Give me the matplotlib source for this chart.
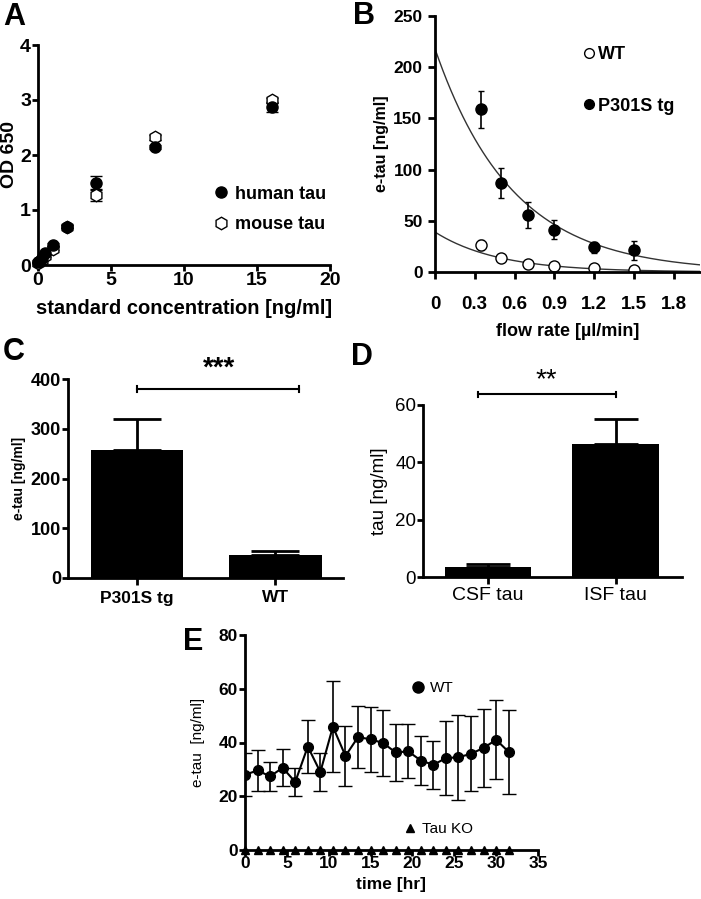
import numpy as np
import matplotlib
matplotlib.use("Agg")
import matplotlib.pyplot as plt
from matplotlib.lines import Line2D

plt.rcParams["font.family"] = ["Liberation Sans", "DejaVu Sans"]
plt.rcParams["axes.linewidth"] = 2

# panel A: ELISA standard curve
std_conc = [0, 0.125, 0.25, 0.5, 1, 2, 4, 8, 16]
human_od = [0.05, 0.08, 0.12, 0.22, 0.37, 0.70, 1.50, 2.15, 2.87]
human_err = [0, 0, 0, 0.02, 0.03, 0.02, 0.12, 0.04, 0.08]
mouse_od = [0.03, 0.07, 0.10, 0.17, 0.30, 0.70, 1.27, 2.32, 3.00]
mouse_err = [0, 0, 0, 0.02, 0.02, 0.02, 0.10, 0.04, 0.04]

# panel B: flow rate vs e-tau
flow = [0.35, 0.5, 0.7, 0.9, 1.2, 1.5]
wt_flow = [26, 13.7, 8, 6, 4, 2.3]
wt_flow_err = [5, 2, 1.5, 1.2, 1, 0.8]
tg_flow = [159, 87, 55.5, 41.5, 24, 21]
tg_flow_err = [18, 15, 13, 9, 5, 9]
# one-phase decay fit parameters (y0, k)
tg_fit = (218, 1.72)
wt_fit = (39, 2.1)

# panel C
c_groups = ["P301S tg", "WT"]
c_vals = [258, 47]
c_err = [62, 8]

# panel D
d_groups = ["CSF tau", "ISF tau"]
d_vals = [3.5, 46.5]
d_err = [1.0, 8.5]

# panel E: time course
time_hr = [0, 1.5, 3, 4.5, 6, 7.5, 9, 10.5, 12, 13.5, 15, 16.5, 18, 19.5,
           21, 22.5, 24, 25.5, 27, 28.5, 30, 31.5]
wt_time = [28, 29.6, 27.4, 30.6, 25.3, 38.5, 29, 45.9, 35, 42, 41.2, 39.8,
           36.3, 36.7, 33.3, 31.7, 34.2, 34.5, 35.8, 38, 41, 36.5]
wt_time_err = [8, 7.7, 5.5, 6.8, 5.2, 10, 7.2, 17, 11, 11.5, 12, 12.3,
               10.6, 10, 9, 9, 13.8, 15.8, 14, 14.6, 14.7, 15.7]
ko_time = [0] * len(time_hr)

W, H = 701, 899
fig = plt.figure(figsize=(W / 100, H / 100), dpi=100)


def add_ax(x0, y0, x1, y1):
    # pixel box -> figure fraction
    return fig.add_axes([x0 / W, 1 - y1 / H, (x1 - x0) / W, (y1 - y0) / H])


def style(ax, size, weight="bold", length=4):
    for s in ["top", "right"]:
        ax.spines[s].set_visible(False)
    ax.tick_params(width=2, length=length, labelsize=size, pad=1)
    for lab in ax.get_xticklabels() + ax.get_yticklabels():
        lab.set_fontweight(weight)


def ylabel_at(ax, text, px, size, weight="bold"):
    # put the y label centre at pixel column px
    ax.set_ylabel(text, fontsize=size, fontweight=weight)
    bb = ax.get_position()
    ax.yaxis.set_label_coords((px / W - bb.x0) / bb.width, 0.5)
    ax.yaxis.label.set_va("center")


def xlabel_at(ax, text, py, size, weight="bold"):
    ax.set_xlabel(text, fontsize=size, fontweight=weight)
    bb = ax.get_position()
    ax.xaxis.set_label_coords(0.5, (1 - py / H - bb.y0) / bb.height)
    ax.xaxis.label.set_va("center")


# ---- A
ax = add_ax(38, 45, 330, 265)
ax.errorbar(std_conc, mouse_od, yerr=mouse_err, fmt="h", color="black",
            mfc="white", ms=9, capsize=4, elinewidth=1.2, clip_on=False)
ax.errorbar(std_conc, human_od, yerr=human_err, fmt="o", color="black",
            ms=8, capsize=4, elinewidth=1.2, clip_on=False)
ax.set_xlim(0, 20)
ax.set_ylim(0, 4)
ax.set_xticks([0, 5, 10, 15, 20])
ax.set_yticks([0, 1, 2, 3, 4])
xlabel_at(ax, "standard concentration [ng/ml]", 308, 14.5)
ylabel_at(ax, "OD 650", 10, 14)
style(ax, 14)
handles = [Line2D([], [], ls="none", marker="o", color="black", ms=8),
           Line2D([], [], ls="none", marker="h", color="black", mfc="white",
                  ms=9)]
ax.legend(handles, ["human tau", "mouse tau"], loc="center left",
          bbox_to_anchor=(0.595, 0.252), frameon=False,
          prop={"weight": "bold", "size": 13}, handletextpad=0.3,
          handlelength=1.0, labelspacing=0.75, borderpad=0, borderaxespad=0)

# ---- B
ax = add_ax(435, 16, 700, 272)
xs = np.linspace(0, 2.0, 200)
ax.plot(xs, tg_fit[0] * np.exp(-tg_fit[1] * xs), color="#333333", lw=1)
ax.plot(xs, wt_fit[0] * np.exp(-wt_fit[1] * xs), color="#333333", lw=1)
ax.errorbar(flow, wt_flow, yerr=wt_flow_err, fmt="o", color="black",
            mfc="white", ms=8, capsize=2, elinewidth=1.2)
ax.errorbar(flow, tg_flow, yerr=tg_flow_err, fmt="o", color="black",
            ms=8, capsize=2, elinewidth=1.2)
ax.set_xlim(0, 2.0)
ax.set_ylim(0, 250)
ax.set_xticks([0, 0.3, 0.6, 0.9, 1.2, 1.5, 1.8])
ax.set_xticklabels(["0", "0.3", "0.6", "0.9", "1.2", "1.5", "1.8"])
ax.set_yticks([0, 50, 100, 150, 200, 250])
xlabel_at(ax, "flow rate [µl/min]", 332, 13)
ylabel_at(ax, "e-tau [ng/ml]", 382, 11.5)
style(ax, 12.5, length=5)
ax.tick_params(axis="y", pad=4)
ax.tick_params(axis="x", labelsize=13.5, pad=12)
handles = [Line2D([], [], ls="none", marker="o", color="black", mfc="white",
                  ms=7),
           Line2D([], [], ls="none", marker="o", color="black", ms=7)]
ax.legend(handles, ["WT", "P301S tg"], loc="center left",
          bbox_to_anchor=(0.555, 0.748), frameon=False,
          prop={"weight": "bold", "size": 13}, handletextpad=0.1,
          handlelength=0.8, labelspacing=1.9, borderpad=0, borderaxespad=0)

# ---- C
ax = add_ax(68, 379, 343, 578)
ax.bar([0, 1], c_vals, width=0.67, color="black")
ax.errorbar([0, 1], c_vals, yerr=[[0, 0], c_err], fmt="none", ecolor="black",
            elinewidth=2, capsize=17, capthick=2)
ax.set_xlim(-0.5, 1.49)
ax.set_ylim(0, 400)
ax.set_xticks([0, 1])
ax.set_xticklabels(c_groups)
ax.set_yticks([0, 100, 200, 300, 400])
ylabel_at(ax, "e-tau [ng/ml]", 19, 10)
style(ax, 13)
ax.tick_params(axis="x", labelsize=12.5, pad=4, length=5)
ax.plot([0, 1.17], [380, 380], color="black", lw=1.5, clip_on=False)
ax.plot([0, 0], [374, 386], color="black", lw=1.5, clip_on=False)
ax.plot([1.17, 1.17], [374, 386], color="black", lw=1.5, clip_on=False)
ax.text(0.59, 420, "***", ha="center", va="center", fontsize=20,
        fontweight="bold", clip_on=False)

# ---- D
ax = add_ax(423, 405, 682, 577)
ax.bar([0, 1], d_vals, width=0.68, color="black")
ax.errorbar([0, 1], d_vals, yerr=[[0, 0], d_err], fmt="none", ecolor="black",
            elinewidth=2, capsize=16, capthick=2)
ax.set_xlim(-0.51, 1.52)
ax.set_ylim(0, 60)
ax.set_xticks([0, 1])
ax.set_xticklabels(d_groups)
ax.set_yticks([0, 20, 40, 60])
ylabel_at(ax, "tau [ng/ml]", 380, 13.5, weight="normal")
style(ax, 13.5, weight="normal")
ax.tick_params(axis="x", labelsize=14, pad=2, length=5)
ax.plot([-0.08, 1.0], [63.8, 63.8], color="black", lw=1.5, clip_on=False)
ax.plot([-0.08, -0.08], [62.9, 64.7], color="black", lw=1.5, clip_on=False)
ax.plot([1.0, 1.0], [62.9, 64.7], color="black", lw=1.5, clip_on=False)
ax.text(0.46, 68.7, "**", ha="center", va="center", fontsize=20,
        clip_on=False)

# ---- E
ax = add_ax(245, 635, 538, 850)
ax.errorbar(time_hr, wt_time, yerr=wt_time_err, fmt="-o", color="black",
            ms=7, lw=1.5, capsize=5, elinewidth=1.2)
ax.plot(time_hr, ko_time, "^", color="black", ms=6, clip_on=False)
ax.set_xlim(0, 35)
ax.set_ylim(0, 80)
ax.set_xticks([0, 5, 10, 15, 20, 25, 30, 35])
ax.set_yticks([0, 20, 40, 60, 80])
xlabel_at(ax, "time [hr]", 884, 12.5)
ylabel_at(ax, "e-tau  [ng/ml]", 198, 11, weight="normal")
style(ax, 12.5)
ax.tick_params(axis="x", pad=0)
leg_wt = ax.legend([Line2D([], [], ls="none", marker="o", color="black",
                           ms=8)], ["WT"], loc="center left",
                   bbox_to_anchor=(0.563, 0.753), frameon=False,
                   fontsize=11, handletextpad=0.3, handlelength=1.0,
                   borderpad=0, borderaxespad=0)
ax.add_artist(leg_wt)
ax.legend([Line2D([], [], ls="none", marker="^", color="black", ms=6)],
          ["Tau KO"], loc="center left", bbox_to_anchor=(0.536, 0.098),
          frameon=False, fontsize=11, handletextpad=0.3, handlelength=1.0,
          borderpad=0, borderaxespad=0)

# panel letters
for letter, px, py in [("A", 14, 17), ("B", 364, 16), ("C", 14, 352),
                       ("D", 362, 357), ("E", 193, 642)]:
    fig.text(px / W, 1 - py / H, letter, fontsize=22, fontweight="bold",
             ha="center", va="center")

fig.savefig("out.png", dpi=100)
